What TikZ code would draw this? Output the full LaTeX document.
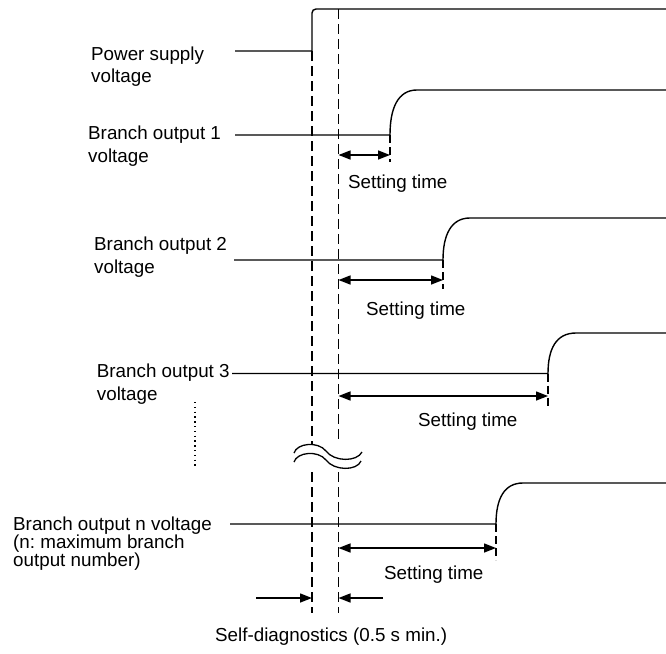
\documentclass[tikz,border=0pt]{standalone}
\usepackage{fontspec}
\setmainfont{Liberation Sans}
\usetikzlibrary{arrows.meta}
\frenchspacing
\begin{document}
\begin{tikzpicture}[x=1pt,y=-1pt,
  wave/.style={line width=1.4pt},
  guide/.style={line width=1.2pt, dash pattern=on 10pt off 5pt},
  tickline/.style={line width=1.1pt, dash pattern=on 8pt off 4pt},
  dim/.style={line width=1.4pt, {Triangle[length=12pt,width=9pt]}-{Triangle[length=12pt,width=9pt]}},
  onetip/.style={line width=1.4pt, -{Triangle[length=12pt,width=9pt]}},
  lbl/.style={anchor=base west, inner sep=0pt, align=left, font=\fontsize{18.8}{22.4}\selectfont},
  lbltight/.style={anchor=base west, inner sep=0pt, align=left, font=\fontsize{18.8}{17.7}\selectfont}]
\useasboundingbox (0,0) rectangle (666,653);

% power supply
\node[lbl] (pwr) at (91,82.5) {Power supply\\voltage};
\draw[wave] (235,51) -- (312,51) -- (312,13) to[out=90,in=180] (316,9) -- (666,9);

% dashed guide lines with break
\draw[guide] (312,51) -- (312,445);
\draw[guide] (312,472) -- (312,613);
\draw[guide] (338.5,9) -- (338.5,440);
\draw[guide] (338.5,472) -- (338.5,613);
\draw[line width=1.3pt] (294,453) .. controls (297,443) and (318,441) .. (326,451) .. controls (334,462) and (357,462) .. (362,452);
\draw[line width=1.3pt] (294,462) .. controls (297,452) and (318,450) .. (326,460) .. controls (334,471) and (357,471) .. (361,461);

% branch 1
\node[lbl] (b1) at (88,162) {Branch output 1\\voltage};
\draw[wave] (235,135) -- (390,135) .. controls (390,108) and (398,90) .. (417,90) -- (666,90);
\draw[tickline] (390,135) -- (390,162);
\draw[dim] (338.5,155) -- (390,155);
\node[lbl] (s1) at (348,188.3) {Setting time};

% branch 2
\node[lbl] (b2) at (94,273.3) {Branch output 2\\voltage};
\draw[wave] (234,260) -- (443,260) .. controls (443,235) and (451,218) .. (470,218) -- (666,218);
\draw[tickline] (443,260) -- (443,289);
\draw[dim] (338.5,280) -- (443,280);
\node[lbl] (s2) at (366,315) {Setting time};

% branch 3
\node[lbl] (b3) at (96.7,400) {Branch output 3\\voltage};
\draw[wave] (232,373.5) -- (548,373.5) .. controls (548,349) and (556,333) .. (576,333) -- (666,333);
\draw[tickline] (548,373.5) -- (548,407);
\draw[dim] (338.5,396) -- (548,396);
\node[lbl] (s3) at (418,426.7) {Setting time};

% dots
\draw[line width=1.3pt, dash pattern=on 1.3pt off 3.5pt] (195,402) -- (195,468);

% branch n
\node[lbltight] (bn) at (13,566) {Branch output n voltage\\(n: maximum branch\\output number)};
\draw[wave] (230,524) -- (496,524) .. controls (496,499) and (504,483) .. (523,483) -- (666,483);
\draw[tickline] (496,524) -- (496,560);
\draw[dim] (338.5,548) -- (496,548);
\node[lbl] (sn) at (384,579.3) {Setting time};

% self diagnostics
\draw[onetip] (256,598) -- (312,598);
\draw[onetip] (383,598) -- (338.5,598);
\node[lbl] (sd) at (215,641) {Self-diagnostics (0.5 s min.)};
\end{tikzpicture}
\end{document}
